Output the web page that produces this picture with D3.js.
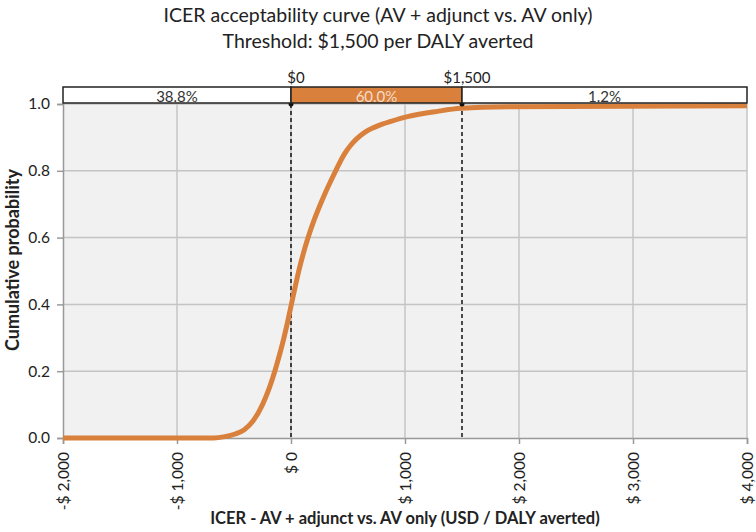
<!DOCTYPE html>
<html>
<head>
<meta charset="utf-8">
<script src="https://cdn.jsdelivr.net/npm/d3@7"></script>
<style>
  body { margin: 0; background: #fff; }
  text { font-family: Lato, "Open Sans", sans-serif; fill: #222; }
</style>
</head>
<body>
<svg id="chart" width="756" height="532"></svg>
<script>
// ICER (USD per DALY averted) and cumulative probability
var icer = [-2000, -1000, -680, -580, -490, -410, -335, -250, -190, -142, -100, -62, -28, 3, 35, 68, 106, 150, 200, 258, 322, 392, 468, 520, 580, 650, 730, 800, 876, 1022, 1285, 1489, 1900, 4000];
var prob = [0, 0, 0, 0.004, 0.012, 0.025, 0.05, 0.1, 0.15, 0.2, 0.25, 0.3, 0.35, 0.4, 0.45, 0.5, 0.55, 0.6, 0.65, 0.7, 0.75, 0.8, 0.85, 0.875, 0.897, 0.916, 0.93, 0.94, 0.948, 0.962, 0.978, 0.987, 0.992, 0.995];

var xTicks = [-2000, -1000, 0, 1000, 2000, 3000, 4000];
var yTicks = [0, 0.2, 0.4, 0.6, 0.8, 1.0];
var thresholds = [0, 1500];
var bandLabels = ["38.8%", "60.0%", "1.2%"];
var bandFill = ["#ffffff", "#d8803c", "#ffffff"];

var orange = "#d8803c";

var svg = d3.select("#chart");
var margin = {top: 104, right: 9, bottom: 94, left: 63},
  width = +svg.attr("width") - margin.left - margin.right,
  height = +svg.attr("height") - margin.top - margin.bottom;

var x = d3.scaleLinear().domain([-2000, 4000]).range([0, width]);
var y = d3.scaleLinear().domain([0, 1]).range([height, 0]);

var g = svg.append("g")
  .attr("transform", "translate(" + margin.left + "," + margin.top + ")");

// plot background
g.append("rect")
  .attr("width", width)
  .attr("height", height)
  .attr("fill", "#f1f1f1");

// grid
g.selectAll(".vgrid").data(xTicks.slice(1)).enter().append("line")
  .attr("x1", function(d) { return x(d); })
  .attr("x2", function(d) { return x(d); })
  .attr("y1", 0).attr("y2", height)
  .attr("stroke", "#c4c4c4").attr("stroke-width", 1.5);
g.selectAll(".hgrid").data(yTicks.slice(1)).enter().append("line")
  .attr("x1", 0).attr("x2", width)
  .attr("y1", function(d) { return y(d); })
  .attr("y2", function(d) { return y(d); })
  .attr("stroke", "#c4c4c4").attr("stroke-width", 1.5);

var fmtMoney = function(d) {
  return (d < 0 ? "-$ " : "$ ") + d3.format(",")(Math.abs(d));
};

// x axis
var xAxis = g.append("g")
  .attr("transform", "translate(0," + height + ")")
  .call(d3.axisBottom(x).tickValues(xTicks).tickFormat(fmtMoney).tickSize(6).tickPadding(8));
xAxis.select(".domain").attr("stroke", "#999").attr("stroke-width", 1.5);
xAxis.selectAll(".tick line").attr("stroke", "#999").attr("stroke-width", 1.5);
xAxis.selectAll(".tick text")
  .attr("transform", "rotate(-90)")
  .attr("text-anchor", "end")
  .attr("x", -14)
  .attr("y", 0)
  .attr("dy", "0.35em")
  .style("font-size", "15.5px");

// y axis
var yAxis = g.append("g")
  .call(d3.axisLeft(y).tickValues(yTicks).tickFormat(d3.format(".1f")).tickSize(6).tickPadding(7));
yAxis.select(".domain").attr("stroke", "#999").attr("stroke-width", 1.5);
yAxis.selectAll(".tick line").attr("stroke", "#999").attr("stroke-width", 1.5);
yAxis.selectAll(".tick text").style("font-size", "15.5px");

// threshold lines
g.selectAll(".thr").data(thresholds).enter().append("line")
  .attr("x1", function(d) { return x(d); })
  .attr("x2", function(d) { return x(d); })
  .attr("y1", 0).attr("y2", height)
  .attr("stroke", "#111").attr("stroke-width", 1.5)
  .attr("stroke-dasharray", "4,3");

// curve
var line = d3.line()
  .x(function(d, i) { return x(icer[i]); })
  .y(function(d) { return y(d); })
  .curve(d3.curveMonotoneX);
g.append("path")
  .attr("d", line(prob))
  .attr("fill", "none")
  .attr("stroke", orange)
  .attr("stroke-width", 5);

g.selectAll(".thrdot").data(thresholds).enter().append("circle")
  .attr("cx", function(d) { return x(d); })
  .attr("cy", 0)
  .attr("r", 2.5)
  .attr("fill", "#111");

// top band
var edges = [-2000].concat(thresholds).concat([4000]);
var band = g.append("g").attr("transform", "translate(0,-17)");
band.selectAll("rect").data(bandLabels).enter().append("rect")
  .attr("x", function(d, i) { return x(edges[i]); })
  .attr("width", function(d, i) { return x(edges[i + 1]) - x(edges[i]); })
  .attr("y", 0).attr("height", 16)
  .attr("fill", function(d, i) { return bandFill[i]; })
  .attr("stroke", "#222").attr("stroke-width", 1.5);
band.selectAll(".lbl").data(bandLabels).enter().append("text")
  .attr("x", function(d, i) { return (x(edges[i]) + x(edges[i + 1])) / 2; })
  .attr("y", 15)
  .attr("text-anchor", "middle")
  .style("font-size", "15px")
  .style("fill", function(d, i) { return i === 1 ? "#f6dcc6" : "#333"; })
  .text(function(d) { return d; });
band.selectAll(".thrlbl").data(thresholds).enter().append("text")
  .attr("x", function(d) { return x(d) + 5; })
  .attr("y", -4)
  .attr("text-anchor", "middle")
  .style("font-size", "15px")
  .text(function(d) { return "$" + d3.format(",")(d); });

// titles
svg.append("text")
  .attr("x", 378).attr("y", 22)
  .attr("text-anchor", "middle")
  .style("font-size", "19.5px")
  .text("ICER acceptability curve (AV + adjunct vs. AV only)");
svg.append("text")
  .attr("x", 378).attr("y", 48)
  .attr("text-anchor", "middle")
  .style("font-size", "19.5px")
  .text("Threshold: $1,500 per DALY averted");

svg.append("text")
  .attr("transform", "translate(19,260) rotate(-90)")
  .attr("text-anchor", "middle")
  .style("font-size", "18px")
  .style("font-weight", "bold")
  .text("Cumulative probability");

svg.append("text")
  .attr("x", 405).attr("y", 524)
  .attr("text-anchor", "middle")
  .style("font-size", "16.5px")
  .style("font-weight", "bold")
  .text("ICER - AV + adjunct vs. AV only (USD / DALY averted)");
</script>
</body>
</html>
